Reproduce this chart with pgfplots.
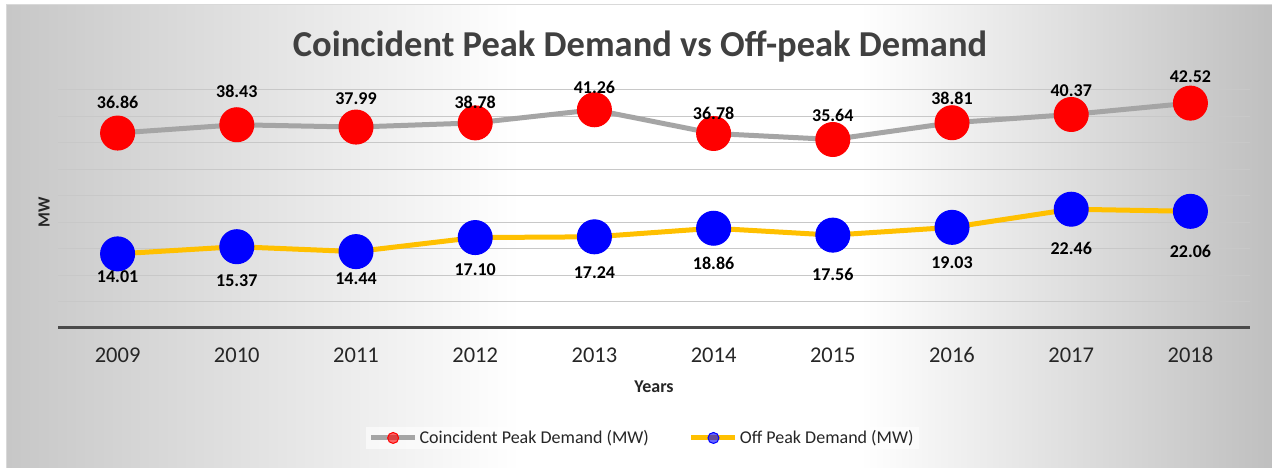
\documentclass[border=0pt]{standalone}
\usepackage{pgfplots}
\pgfplotsset{compat=1.18}
\usepackage{pgfplotstable}
\usepackage{fontspec}
\setmainfont{Carlito}
\definecolor{peakgray}{HTML}{A5A5A5}
\definecolor{offyellow}{HTML}{FFC000}
\definecolor{titlegray}{HTML}{404040}
\definecolor{gridgray}{HTML}{C8C8C8}
\definecolor{axisdark}{HTML}{4A4A4A}
\definecolor{mred}{HTML}{FF0000}
\definecolor{mblue}{HTML}{0000FF}

\pgfplotstableread{
x y off
0 36.86 31
1 38.43 33
2 37.99 28
3 38.78 21
4 41.26 22
5 36.78 20
6 35.64 24
7 38.81 24
8 40.37 24
9 42.52 26
}\peak

\pgfplotstableread{
x y off
0 14.01 -23
1 15.37 -34
2 14.44 -27
3 17.10 -32
4 17.24 -36
5 18.86 -35
6 17.56 -39
7 19.03 -35
8 22.46 -39
9 22.06 -40
}\offpeak

\begin{document}
\begin{tikzpicture}
\useasboundingbox (0pt,0pt) rectangle (1272pt,468pt);
\fill[white] (0pt,0pt) rectangle (1272pt,468pt);
\fill[white] (6pt,0pt) rectangle (1272pt,463pt);
\shade[left color=black!22, right color=white] (6pt,0pt) rectangle (520pt,463pt);
\shade[left color=white, right color=black!25] (860pt,0pt) rectangle (1272pt,463pt);
\draw[black!15, line width=1pt] (6pt,0pt) -- (6pt,463pt) -- (1272pt,463pt);
\node[anchor=base, font=\fontsize{36.5}{40}\selectfont\bfseries, text=titlegray, inner sep=0pt] at (640pt,411pt) {Coincident Peak Demand vs Off-peak Demand};
\begin{axis}[
  at={(58pt,140pt)}, anchor=south west,
  scale only axis, width=1192pt, height=238pt,
  xmin=-0.5, xmax=9.5, ymin=0, ymax=45,
  clip=false,
  axis line style={draw=none},
  xtick={0,1,2,3,4,5,6,7,8,9},
  xticklabels={2009,2010,2011,2012,2013,2014,2015,2016,2017,2018},
  ytick={5,10,15,20,25,30,35,40,45}, yticklabels={},
  ymajorgrids, grid style={gridgray, line width=1pt},
  extra y ticks={0}, extra y tick labels={},
  extra y tick style={grid style={axisdark, line width=3pt}},
  major tick length=0pt, tick style={draw=none},
  xticklabel style={font=\fontsize{22.5}{26}\selectfont, text=black!85, anchor=center, yshift=-27pt},
  xlabel={Years},
  xlabel style={font=\fontsize{18}{20}\selectfont\bfseries, text=black!85, at={(axis description cs:0.5,0)}, anchor=center, yshift=-59pt},
  ylabel={MW},
  ylabel style={font=\fontsize{17}{20}\selectfont\bfseries, text=black!85, at={(axis description cs:-0.01174,0.487)}, anchor=center},
  legend style={at={(axis description cs:0.49,-0.462)}, anchor=center, legend columns=2, draw=none, fill=white, fill opacity=0.6, text opacity=1, font=\fontsize{18}{20}\selectfont, text=black!85, /tikz/every even column/.append style={column sep=38pt}},
  legend image code/.code={\draw[mark repeat=2,mark phase=2,#1, mark size=5.5pt] plot coordinates {(0pt,0pt) (22pt,0pt) (44pt,0pt)};},
]
\addplot[peakgray, line width=5pt, mark=*, mark size=17pt, mark options={draw=mred, fill=mred, line width=1pt},
  point meta=explicit symbolic, nodes near coords,
  visualization depends on={\thisrow{off} \as \myoff},
  every node near coord/.append style={anchor=center, yshift=\myoff pt, font=\fontsize{18}{20}\selectfont\bfseries, text=black}]
  table[x=x, y=y, meta=y] {\peak};
\addlegendentry{Coincident Peak Demand (MW)}
\addplot[offyellow, line width=5pt, mark=*, mark size=17pt, mark options={draw=mblue, fill=mblue, line width=1pt},
  point meta=explicit symbolic, nodes near coords,
  visualization depends on={\thisrow{off} \as \myoff},
  every node near coord/.append style={anchor=center, yshift=\myoff pt, font=\fontsize{18}{20}\selectfont\bfseries, text=black}]
  table[x=x, y=y, meta=y] {\offpeak};
\addlegendentry{Off Peak Demand (MW)}
\end{axis}
\end{tikzpicture}
\end{document}
